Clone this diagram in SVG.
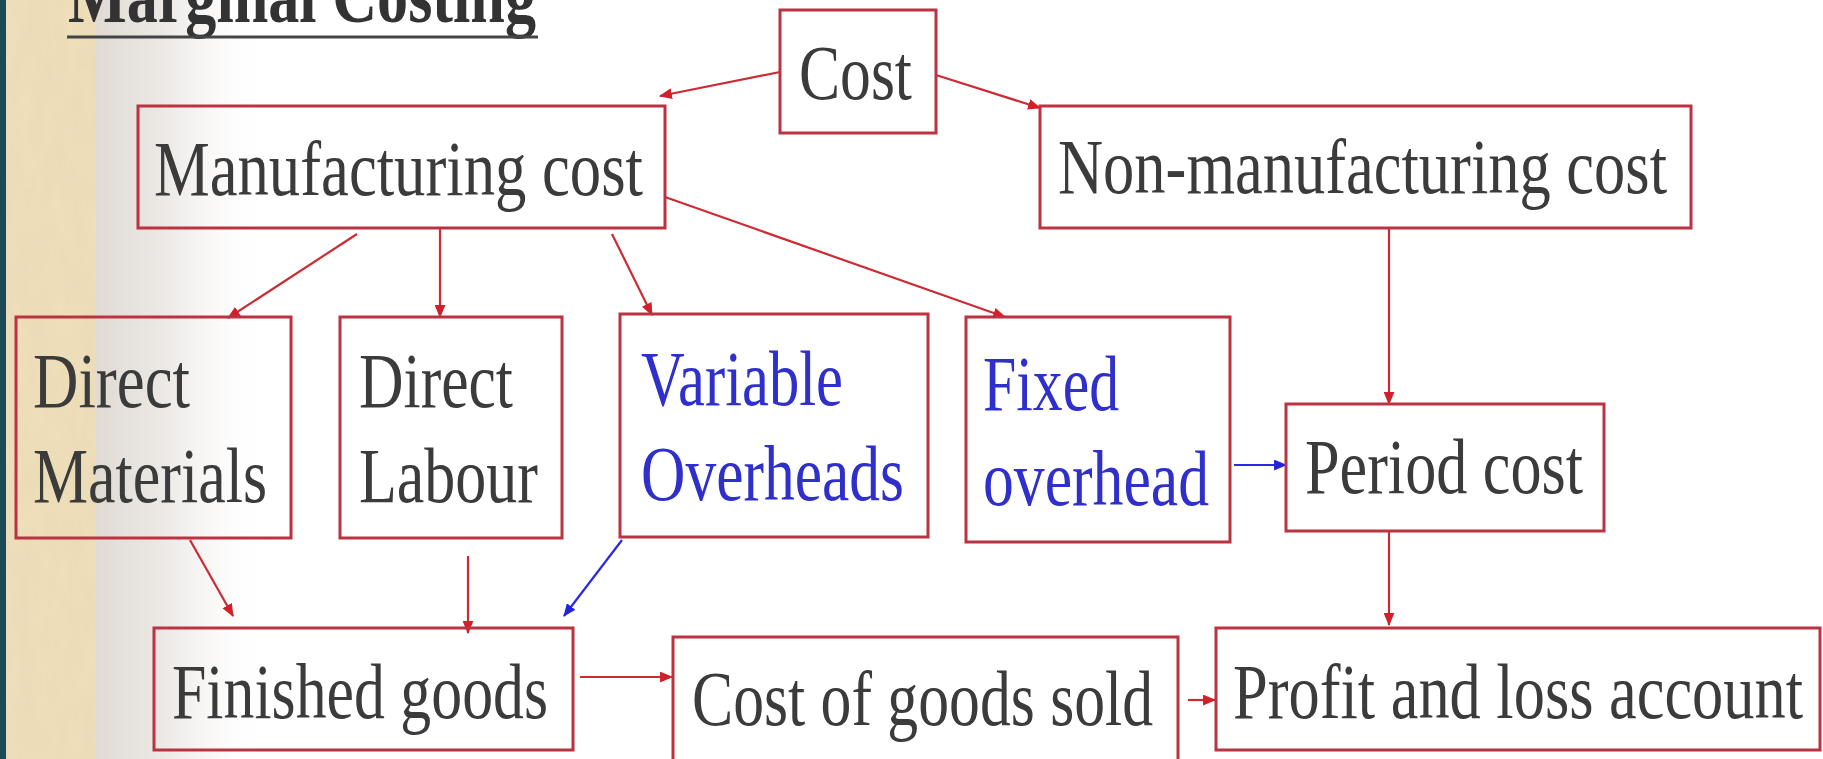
<svg xmlns="http://www.w3.org/2000/svg" width="1823" height="759" viewBox="0 0 1823 759">
  <defs>
    <style>
      .box { fill: none; stroke: #bb3340; stroke-width: 3; }
      .lbl { font-family: "Liberation Serif", "Times New Roman", serif; font-size: 78px; fill: #3b3b3b; }
      .blue { fill: #2f2fcc; }
      .title { font-family: "Liberation Serif", "Times New Roman", serif; font-size: 78px; font-weight: bold; fill: #333333; }
      .edge { fill: none; stroke: #cc2b33; stroke-width: 2.2; }
      .edge.b { stroke: #2a2ae0; }
    </style>
    <marker id="ah" viewBox="0 0 12 10" refX="11" refY="5" markerWidth="13" markerHeight="11" markerUnits="userSpaceOnUse" orient="auto">
      <path d="M0,0 L12,5 L0,10 Z" fill="#d0202a"/>
    </marker>
    <marker id="ahb" viewBox="0 0 12 10" refX="11" refY="5" markerWidth="13" markerHeight="11" markerUnits="userSpaceOnUse" orient="auto">
      <path d="M0,0 L12,5 L0,10 Z" fill="#2222e0"/>
    </marker>
    <linearGradient id="fade" x1="0" y1="0" x2="1" y2="0">
      <stop offset="0" stop-color="#ddd8cf"/>
      <stop offset="0.45" stop-color="#ece9e6"/>
      <stop offset="1" stop-color="#ffffff" stop-opacity="0"/>
    </linearGradient>
    <filter id="grain" x="0" y="0" width="100%" height="100%">
      <feTurbulence type="fractalNoise" baseFrequency="0.06 0.02" numOctaves="3" seed="4"/>
      <feColorMatrix type="matrix" values="0 0 0 0 0.78  0 0 0 0 0.66  0 0 0 0 0.45  0 0 0 0.55 -0.05"/>
    </filter>
  </defs>

  <!-- page background -->
  <rect x="0" y="0" width="1823" height="759" fill="#ffffff"/>
  <rect x="80" y="0" width="190" height="759" fill="url(#fade)"/>
  <rect x="6" y="0" width="90" height="759" fill="#efdfba"/>
  <rect x="6" y="0" width="90" height="759" filter="url(#grain)"/>
  <rect x="0" y="0" width="6" height="759" fill="#1c4a57"/>

  <!-- heading -->
  <g id="title">
    <text class="title" x="68" y="22" textLength="468" lengthAdjust="spacingAndGlyphs">Marginal Costing</text>
    <rect x="67" y="35.5" width="471" height="3" fill="#444444"/>
  </g>

  <!-- connectors -->
  <g id="connectors">
    <line class="edge" x1="780" y1="72" x2="660" y2="96" marker-end="url(#ah)"/>
    <line class="edge" x1="936" y1="75" x2="1040" y2="108" marker-end="url(#ah)"/>
    <line class="edge" x1="357" y1="234" x2="228" y2="318" marker-end="url(#ah)"/>
    <line class="edge" x1="440" y1="229" x2="440" y2="317" marker-end="url(#ah)"/>
    <line class="edge" x1="612" y1="234" x2="652" y2="315" marker-end="url(#ah)"/>
    <line class="edge" x1="665" y1="197" x2="1005" y2="317" marker-end="url(#ah)"/>
    <line class="edge" x1="1389" y1="229" x2="1389" y2="404" marker-end="url(#ah)"/>
    <line class="edge b" x1="1234" y1="465" x2="1286" y2="465" marker-end="url(#ahb)"/>
    <line class="edge" x1="1389" y1="532" x2="1389" y2="625" marker-end="url(#ah)"/>
    <line class="edge" x1="190" y1="540" x2="233" y2="616" marker-end="url(#ah)"/>
    <line class="edge" x1="468" y1="556" x2="468" y2="633" marker-end="url(#ah)"/>
    <line class="edge b" x1="622" y1="540" x2="564" y2="616" marker-end="url(#ahb)"/>
    <line class="edge" x1="580" y1="677" x2="672" y2="677" marker-end="url(#ah)"/>
    <line class="edge" x1="1188" y1="700" x2="1215" y2="700" marker-end="url(#ah)"/>
  </g>

  <!-- nodes -->
  <g id="cost">
    <rect class="box" x="780" y="10" width="156" height="123"/>
    <text class="lbl" x="799" y="99" textLength="113" lengthAdjust="spacingAndGlyphs">Cost</text>
  </g>
  <g id="manufacturing-cost">
    <rect class="box" x="138" y="106" width="527" height="122"/>
    <text class="lbl" x="154" y="195" textLength="489" lengthAdjust="spacingAndGlyphs">Manufacturing cost</text>
  </g>
  <g id="non-manufacturing-cost">
    <rect class="box" x="1040" y="106" width="651" height="122"/>
    <text class="lbl" x="1058" y="193" textLength="609" lengthAdjust="spacingAndGlyphs">Non-manufacturing cost</text>
  </g>
  <g id="direct-materials">
    <rect class="box" x="16" y="317" width="275" height="221"/>
    <text class="lbl" x="33" y="407" textLength="157" lengthAdjust="spacingAndGlyphs">Direct</text>
    <text class="lbl" x="33" y="502" textLength="234" lengthAdjust="spacingAndGlyphs">Materials</text>
  </g>
  <g id="direct-labour">
    <rect class="box" x="340" y="317" width="222" height="221"/>
    <text class="lbl" x="359" y="407" textLength="154" lengthAdjust="spacingAndGlyphs">Direct</text>
    <text class="lbl" x="359" y="502" textLength="179" lengthAdjust="spacingAndGlyphs">Labour</text>
  </g>
  <g id="variable-overheads">
    <rect class="box" x="620" y="314" width="308" height="223"/>
    <text class="lbl blue" x="641" y="405" textLength="202" lengthAdjust="spacingAndGlyphs">Variable</text>
    <text class="lbl blue" x="641" y="500" textLength="263" lengthAdjust="spacingAndGlyphs">Overheads</text>
  </g>
  <g id="fixed-overhead">
    <rect class="box" x="966" y="317" width="264" height="225"/>
    <text class="lbl blue" x="983" y="410" textLength="136" lengthAdjust="spacingAndGlyphs">Fixed</text>
    <text class="lbl blue" x="983" y="505" textLength="226" lengthAdjust="spacingAndGlyphs">overhead</text>
  </g>
  <g id="period-cost">
    <rect class="box" x="1286" y="404" width="318" height="127"/>
    <text class="lbl" x="1305" y="493" textLength="278" lengthAdjust="spacingAndGlyphs">Period cost</text>
  </g>
  <g id="finished-goods">
    <rect class="box" x="154" y="628" width="419" height="122"/>
    <text class="lbl" x="172" y="718" textLength="376" lengthAdjust="spacingAndGlyphs">Finished goods</text>
  </g>
  <g id="cost-of-goods-sold">
    <rect class="box" x="673" y="637" width="505" height="130"/>
    <text class="lbl" x="692" y="725" textLength="461" lengthAdjust="spacingAndGlyphs">Cost of goods sold</text>
  </g>
  <g id="profit-and-loss-account">
    <rect class="box" x="1216" y="628" width="604" height="122"/>
    <text class="lbl" x="1233" y="718" textLength="570" lengthAdjust="spacingAndGlyphs">Profit and loss account</text>
  </g>
</svg>
